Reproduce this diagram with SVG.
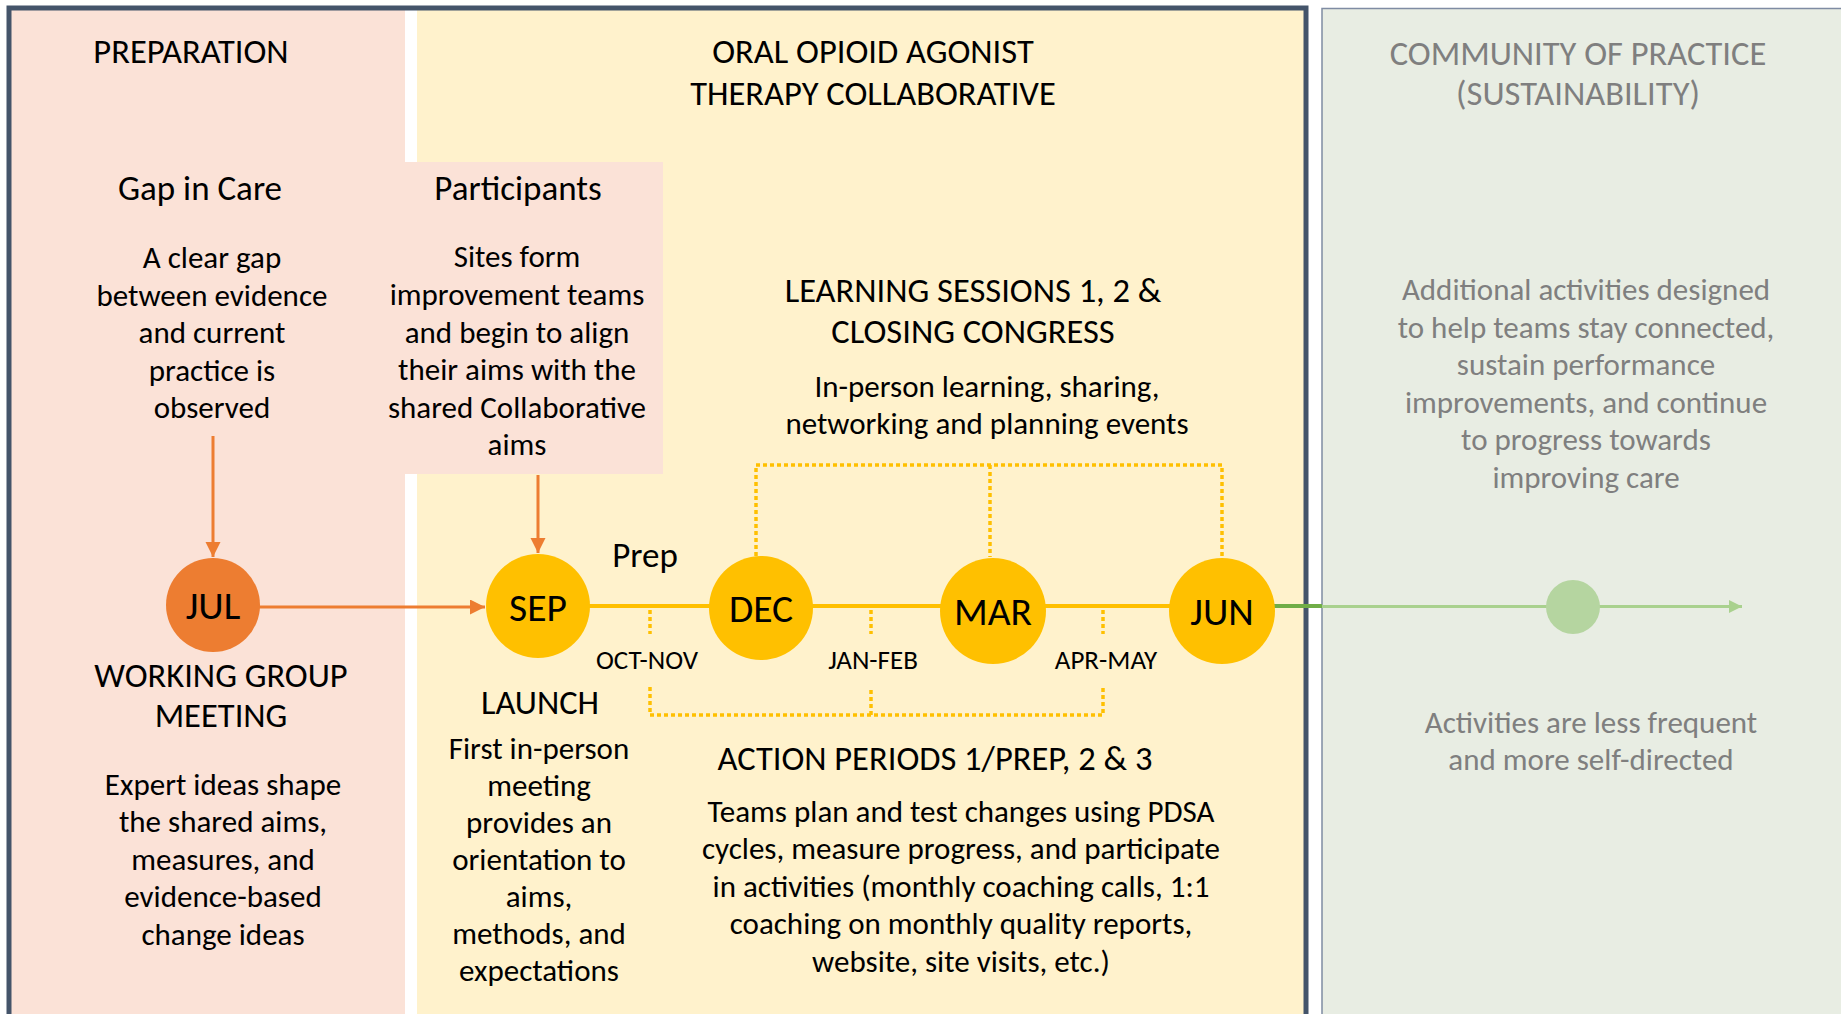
<svg xmlns="http://www.w3.org/2000/svg" width="1841" height="1014" viewBox="0 0 1841 1014">
<defs>
<style>
text{font-family:Carlito,Lato,"Liberation Sans",sans-serif;fill:#000;text-anchor:middle}
.h{font-size:34.5px}
.sh{font-size:35px}
.b{font-size:31px}
.m{font-size:39.5px}
.sm{font-size:27px}
.g{fill:#7f7f7f}
.dot{stroke:#FFC000;stroke-width:3.5;stroke-dasharray:4 3;fill:none}
.or{stroke:#ED7D31;stroke-width:3;fill:none}
</style>
<marker id="ao" markerUnits="userSpaceOnUse" markerWidth="16" markerHeight="16" refX="15" refY="7.5" orient="auto"><path d="M0,0 L15,7.5 L0,15 z" fill="#ED7D31"/></marker>
<marker id="ag" markerUnits="userSpaceOnUse" markerWidth="14" markerHeight="14" refX="13" refY="6.5" orient="auto"><path d="M0,0 L13,6.5 L0,13 z" fill="#A9D18E"/></marker>
</defs>
<rect x="0" y="0" width="1841" height="1014" fill="#fff"/>
<g id="panel-preparation">
<rect x="11" y="10" width="394" height="1004" fill="#FBE2D7"/>
<text class="h" x="191" y="63">PREPARATION</text>
</g>
<g id="panel-collaborative">
<rect x="417" y="10" width="888" height="1004" fill="#FFF2CC"/>
<text class="h" x="873" y="63">ORAL OPIOID AGONIST</text>
<text class="h" x="873" y="105">THERAPY COLLABORATIVE</text>
</g>
<g id="panel-community">
<rect x="1322" y="8.5" width="530" height="1020" fill="#E8EDE3" stroke="#7F8CA3" stroke-width="1.5"/>
<text class="h g" x="1578" y="65">COMMUNITY OF PRACTICE</text>
<text class="h g" x="1578" y="105">(SUSTAINABILITY)</text>
</g>
<rect id="outer-border" x="9" y="8" width="1297" height="1030" fill="none" stroke="#44546A" stroke-width="5"/>
<g id="participants">
<rect x="405" y="162" width="258" height="312" fill="#FBE2D7"/>
<text class="sh" x="518" y="200">Participants</text>
<text class="b" x="517"><tspan x="517" y="267">Sites form</tspan><tspan x="517" y="305">improvement teams</tspan><tspan x="517" y="343">and begin to align</tspan><tspan x="517" y="380">their aims with the</tspan><tspan x="517" y="418">shared Collaborative</tspan><tspan x="517" y="455">aims</tspan></text>
</g>
<g id="gap-in-care">
<text class="sh" x="200" y="200">Gap in Care</text>
<text class="b"><tspan x="212" y="268">A clear gap</tspan><tspan x="212" y="306">between evidence</tspan><tspan x="212" y="343">and current</tspan><tspan x="212" y="381">practice is</tspan><tspan x="212" y="418">observed</tspan></text>
</g>
<g id="connectors">
<line class="or" x1="213" y1="436" x2="213" y2="557" marker-end="url(#ao)"/>
<line class="or" x1="538" y1="475" x2="538" y2="553" marker-end="url(#ao)"/>
<line class="or" x1="258" y1="607" x2="485" y2="607" marker-end="url(#ao)"/>
<line x1="588" y1="606" x2="1170" y2="606" stroke="#FFC000" stroke-width="4"/>
<line x1="1274" y1="606" x2="1322" y2="606" stroke="#70AD47" stroke-width="4"/>
<line x1="1322" y1="606.5" x2="1742" y2="606.5" stroke="#A9D18E" stroke-width="3" marker-end="url(#ag)"/>
<path class="dot" d="M756,556 V465 H1222 V558 M990,465 V557"/>
<path class="dot" d="M650,610 V634 M871,610 V634 M1103,610 V634 M650,687 V715 H1103 V687 M871,715 V687"/>
</g>
<g id="node-jul">
<circle cx="213" cy="605" r="47" fill="#ED7D31"/>
<text class="m" x="213" y="619">JUL</text>
</g>
<g id="working-group">
<text class="h" x="221" y="687">WORKING GROUP</text>
<text class="h" x="221" y="727">MEETING</text>
<text class="b"><tspan x="223" y="795">Expert ideas shape</tspan><tspan x="223" y="832">the shared aims,</tspan><tspan x="223" y="870">measures, and</tspan><tspan x="223" y="907">evidence-based</tspan><tspan x="223" y="945">change ideas</tspan></text>
</g>
<g id="node-sep">
<circle cx="538" cy="606" r="52" fill="#FFC000"/>
<text class="m" x="538" y="621">SEP</text>
</g>
<g id="launch">
<text class="h" x="540" y="714">LAUNCH</text>
<text class="b"><tspan x="539" y="759">First in-person</tspan><tspan x="539" y="796">meeting</tspan><tspan x="539" y="833">provides an</tspan><tspan x="539" y="870">orientation to</tspan><tspan x="539" y="907">aims,</tspan><tspan x="539" y="944">methods, and</tspan><tspan x="539" y="981">expectations</tspan></text>
</g>
<g id="node-dec">
<circle cx="761" cy="608" r="52" fill="#FFC000"/>
<text class="m" x="761" y="622">DEC</text>
</g>
<g id="node-mar">
<circle cx="993" cy="611" r="53" fill="#FFC000"/>
<text class="m" x="993" y="625">MAR</text>
</g>
<g id="node-jun">
<circle cx="1222" cy="611" r="53" fill="#FFC000"/>
<text class="m" x="1222" y="625">JUN</text>
</g>
<g id="period-labels">
<text class="sh" x="645" y="567">Prep</text>
<text class="sm" x="647" y="669">OCT-NOV</text>
<text class="sm" x="873" y="669">JAN-FEB</text>
<text class="sm" x="1106" y="669">APR-MAY</text>
</g>
<g id="learning-sessions">
<text class="h" x="973" y="302">LEARNING SESSIONS 1, 2 &amp;</text>
<text class="h" x="973" y="343">CLOSING CONGRESS</text>
<text class="b"><tspan x="987" y="397">In-person learning, sharing,</tspan><tspan x="987" y="434">networking and planning events</tspan></text>
</g>
<g id="action-periods">
<text class="h" x="935" y="770">ACTION PERIODS 1/PREP, 2 &amp; 3</text>
<text class="b"><tspan x="961" y="822">Teams plan and test changes using PDSA</tspan><tspan x="961" y="859">cycles, measure progress, and participate</tspan><tspan x="961" y="897">in activities (monthly coaching calls, 1:1</tspan><tspan x="961" y="934">coaching on monthly quality reports,</tspan><tspan x="961" y="972">website, site visits, etc.)</tspan></text>
</g>
<g id="node-community">
<circle cx="1573" cy="607" r="27" fill="#B5D5A0"/>
</g>
<g id="community-text">
<text class="b g"><tspan x="1586" y="300">Additional activities designed</tspan><tspan x="1586" y="338">to help teams stay connected,</tspan><tspan x="1586" y="375">sustain performance</tspan><tspan x="1586" y="413">improvements, and continue</tspan><tspan x="1586" y="450">to progress towards</tspan><tspan x="1586" y="488">improving care</tspan></text>
<text class="b g"><tspan x="1591" y="733">Activities are less frequent</tspan><tspan x="1591" y="770">and more self-directed</tspan></text>
</g>
</svg>
